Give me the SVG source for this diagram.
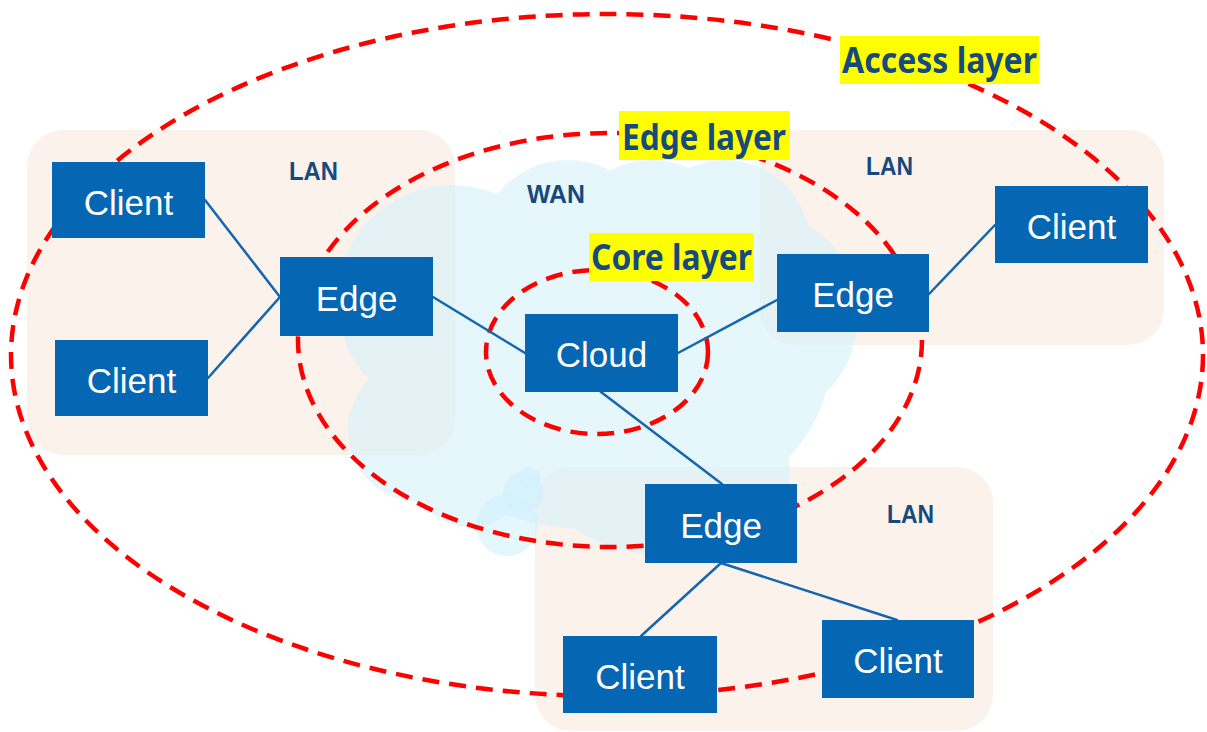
<svg xmlns="http://www.w3.org/2000/svg" width="1207" height="732" viewBox="0 0 1207 732">
  <style>
    .lan { fill: #FBF2EC; }
    .zone-label { font-family: "Liberation Sans", Arial, sans-serif; font-weight: 700; font-size: 25px; fill: #174A7C; }
    .layer { fill: none; stroke: #FF0000; stroke-width: 4.5; stroke-dasharray: 17 10; }
    .link { stroke: #1466AE; stroke-width: 2.5; fill: none; stroke-linecap: round; }
    .box { fill: #0566B3; }
    .box-text { font-family: "Liberation Sans", Arial, sans-serif; font-size: 35px; fill: #FFFFFF; text-anchor: middle; }
    .hl { fill: #FFFF00; }
    .layer-label { font-family: "Noto Sans", "Open Sans", sans-serif; font-weight: 700; font-size: 35px; fill: #174A7C; }
    .cloud-part { fill: #D9F3FB; }
  </style>

  <rect width="1207" height="732" fill="#FFFFFF"/>

  <!-- LAN areas -->
  <g id="lan-areas">
    <rect class="lan" x="27" y="130" width="428" height="325" rx="36"/>
    <rect class="lan" x="760" y="130" width="404" height="215" rx="36"/>
    <rect class="lan" x="535" y="467" width="458" height="264" rx="36"/>
  </g>

  <!-- WAN cloud: union of lobes, tinted as one shape -->
  <g id="wan-cloud">
    <g opacity="0.65">
      <ellipse class="cloud-part" cx="600" cy="360" rx="230" ry="170"/>
      <circle class="cloud-part" cx="452" cy="300" r="115"/>
      <circle class="cloud-part" cx="420" cy="430" r="72"/>
      <ellipse class="cloud-part" cx="470" cy="455" rx="65" ry="72"/>
      <circle class="cloud-part" cx="568" cy="250" r="90"/>
      <circle class="cloud-part" cx="652" cy="248" r="88"/>
      <circle class="cloud-part" cx="725" cy="245" r="85"/>
      <ellipse class="cloud-part" cx="780" cy="315" rx="78" ry="95"/>
      <circle class="cloud-part" cx="730" cy="390" r="60"/>
      <ellipse class="cloud-part" cx="665" cy="470" rx="125" ry="85"/>
    </g>
    <circle cx="507" cy="525" r="31" fill="#CDF0FB" opacity="0.55"/>
    <circle cx="523" cy="492" r="20" fill="#CDF0FB" opacity="0.55"/>
    <circle cx="530" cy="478" r="11" fill="#CDF0FB" opacity="0.55"/>
  </g>

  <!-- zone names -->
  <g id="zone-labels">
    <text class="zone-label" x="289" y="180" textLength="49" lengthAdjust="spacingAndGlyphs">LAN</text>
    <text class="zone-label" x="866" y="175" textLength="47" lengthAdjust="spacingAndGlyphs">LAN</text>
    <text class="zone-label" x="887" y="523" textLength="47" lengthAdjust="spacingAndGlyphs">LAN</text>
    <text class="zone-label" x="527" y="203" textLength="58" lengthAdjust="spacingAndGlyphs">WAN</text>
  </g>

  <!-- layer boundaries -->
  <g id="layers">
    <ellipse class="layer" cx="607" cy="355" rx="596" ry="341"/>
    <ellipse class="layer" cx="610" cy="340" rx="312" ry="207"/>
    <ellipse class="layer" cx="597" cy="352" rx="111" ry="82"/>
  </g>

  <!-- connectors -->
  <g id="connectors">
    <line class="link" x1="205" y1="200" x2="280" y2="297"/>
    <line class="link" x1="208" y1="378" x2="280" y2="297"/>
    <line class="link" x1="433" y1="297" x2="525" y2="353"/>
    <line class="link" x1="678" y1="353" x2="777" y2="300"/>
    <line class="link" x1="929" y1="294" x2="995" y2="225"/>
    <line class="link" x1="601" y1="392" x2="722" y2="484"/>
    <line class="link" x1="721" y1="563" x2="641" y2="636"/>
    <line class="link" x1="721" y1="563" x2="897" y2="620"/>
  </g>

  <!-- nodes -->
  <g id="client-top-left">
    <rect class="box" x="52" y="162" width="153" height="76"/>
    <text class="box-text" x="128.5" y="215">Client</text>
  </g>
  <g id="client-bottom-left">
    <rect class="box" x="55" y="340" width="153" height="76"/>
    <text class="box-text" x="131.5" y="393">Client</text>
  </g>
  <g id="edge-left">
    <rect class="box" x="280" y="257" width="153" height="79"/>
    <text class="box-text" x="356.5" y="311">Edge</text>
  </g>
  <g id="cloud">
    <rect class="box" x="525" y="314" width="153" height="78"/>
    <text class="box-text" x="601.5" y="367">Cloud</text>
  </g>
  <g id="edge-right">
    <rect class="box" x="777" y="254" width="152" height="78"/>
    <text class="box-text" x="853" y="307">Edge</text>
  </g>
  <g id="client-right">
    <rect class="box" x="995" y="186" width="153" height="77"/>
    <text class="box-text" x="1071.5" y="239">Client</text>
  </g>
  <g id="edge-bottom">
    <rect class="box" x="645" y="484" width="152" height="79"/>
    <text class="box-text" x="721" y="538">Edge</text>
  </g>
  <g id="client-bottom-1">
    <rect class="box" x="563" y="636" width="154" height="77"/>
    <text class="box-text" x="640" y="689">Client</text>
  </g>
  <g id="client-bottom-2">
    <rect class="box" x="822" y="620" width="152" height="78"/>
    <text class="box-text" x="898" y="673">Client</text>
  </g>

  <!-- layer names -->
  <g id="layer-labels">
    <rect class="hl" x="840" y="36" width="199" height="48"/>
    <text class="layer-label" x="842" y="73" textLength="195" lengthAdjust="spacingAndGlyphs">Access layer</text>
    <rect class="hl" x="619" y="111" width="171" height="49"/>
    <text class="layer-label" x="622" y="150" textLength="164" lengthAdjust="spacingAndGlyphs">Edge layer</text>
    <rect class="hl" x="589" y="233" width="165" height="48"/>
    <text class="layer-label" x="591" y="270" textLength="161" lengthAdjust="spacingAndGlyphs">Core layer</text>
  </g>
</svg>
